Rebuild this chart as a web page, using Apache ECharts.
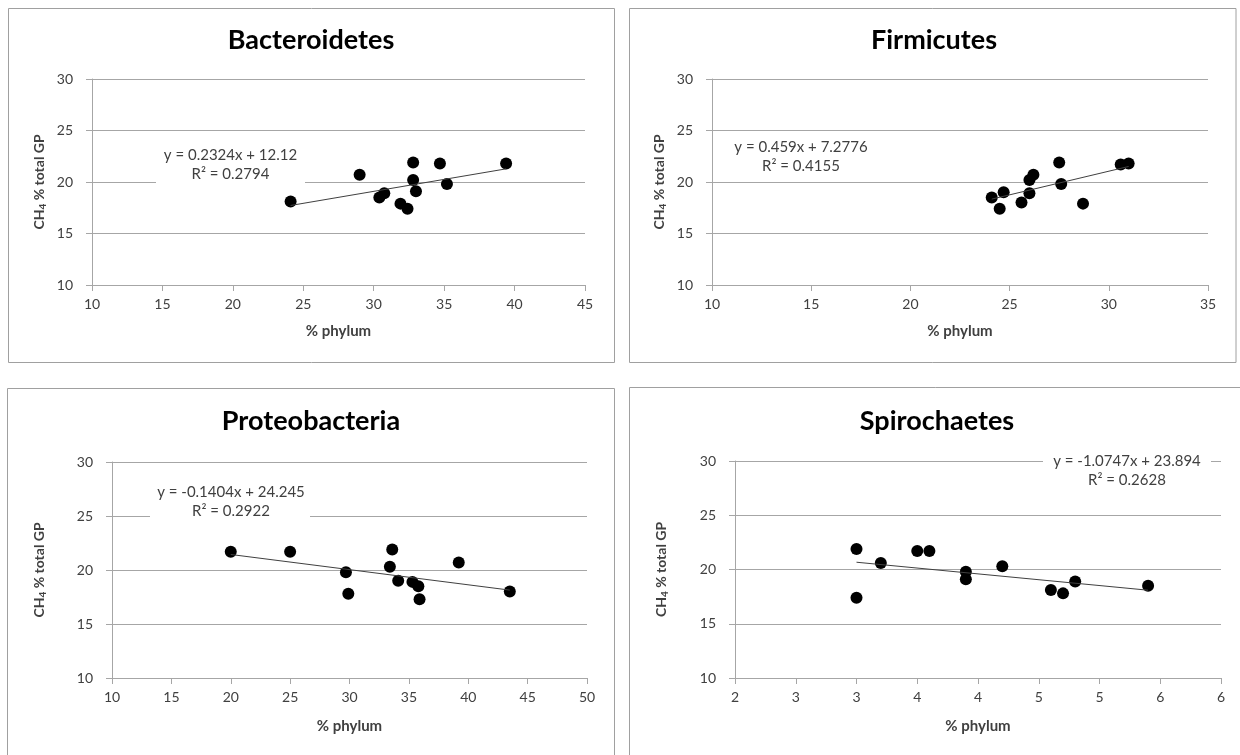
<!DOCTYPE html>
<html>
<head>
<meta charset="utf-8">
<script src="https://cdn.jsdelivr.net/npm/echarts@6/dist/echarts.min.js"></script>
<style>
  html, body { margin: 0; padding: 0; background: #fff; }
  #chart { width: 1240px; height: 755px; }
</style>
</head>
<body>
<div id="chart"></div>
<script>
// CH4 share of total gas production against relative abundance of four phyla
const panelTitles = ['Bacteroidetes', 'Firmicutes', 'Proteobacteria', 'Spirochaetes'];

const bacteroidetesX = [24.1, 29.0, 30.4, 30.75, 31.9, 32.4, 32.8, 32.8, 33.0, 34.7, 35.2, 39.4];
const bacteroidetesY = [18.1, 20.7, 18.5, 18.9, 17.9, 17.4, 21.9, 20.2, 19.1, 21.8, 19.8, 21.8];

const firmicutesX = [24.1, 24.7, 24.5, 25.6, 26.0, 26.0, 26.2, 27.5, 27.6, 28.7, 30.6, 31.0];
const firmicutesY = [18.5, 19.0, 17.4, 18.0, 20.2, 18.9, 20.7, 21.9, 19.8, 17.9, 21.7, 21.8];

const proteobacteriaX = [20.0, 25.0, 29.7, 29.9, 33.4, 33.6, 34.1, 35.3, 35.8, 35.9, 39.2, 43.5];
const proteobacteriaY = [21.7, 21.7, 19.8, 17.8, 20.3, 21.9, 19.0, 18.9, 18.5, 17.3, 20.7, 18.0];

const spirochaetesX = [3.0, 3.0, 3.2, 3.5, 3.6, 3.9, 3.9, 4.2, 4.6, 4.7, 4.8, 5.4];
const spirochaetesY = [21.9, 17.4, 20.6, 21.7, 21.7, 19.8, 19.1, 20.3, 18.1, 17.8, 18.9, 18.5];

// Linear fits (slope, intercept, R²) as printed on each panel
const fitSlopes = [0.2324, 0.459, -0.1404, -1.0747];
const fitIntercepts = [12.12, 7.2776, 24.245, 23.894];
const fitR2 = ['0.2794', '0.4155', '0.2922', '0.2628'];
const fitSlopeText = ['0.2324', '0.459', '-0.1404', '-1.0747'];
const fitInterceptText = ['12.12', '7.2776', '24.245', '23.894'];

// Axis ranges
const xMins = [10, 10, 10, 2];
const xMaxs = [45, 35, 50, 6];
const xSteps = [5, 5, 5, 0.5];
const yMin = 10, yMax = 30, yStep = 5;

const xs = [bacteroidetesX, firmicutesX, proteobacteriaX, spirochaetesX];
const ys = [bacteroidetesY, firmicutesY, proteobacteriaY, spirochaetesY];

const FONT = 'Lato, "Open Sans", sans-serif';
const GRID_COLOR = '#a6a6a6';
const TEXT = '#404040';

// layout of the four plot areas
const grids = [
  { left: 92, top: 79, width: 493, height: 206 },
  { left: 712, top: 79, width: 496, height: 206 },
  { left: 112, top: 462, width: 475, height: 216 },
  { left: 735, top: 461, width: 486, height: 217 }
];
const titlePos = [[311, 27], [934, 27], [311, 408], [937, 408]];
const yNameGap = [44, 44, 64, 65];
const xNameGap = [39, 39, 41, 41];
const eqPos = [[230.5, 155], [801, 147], [231, 492], [1127, 461]];
const eqBox = [[156, 143, 149, 44], [728, 135, 146, 44], [150, 480, 160, 44], [1043, 449, 168, 44]];

const chart = echarts.init(document.getElementById('chart'), null, { renderer: 'canvas' });

const option = {
  backgroundColor: '#fff',
  animation: false,
  title: panelTitles.map((t, i) => ({
    text: t,
    left: titlePos[i][0],
    top: titlePos[i][1],
    textAlign: 'center',
    padding: 0,
    textStyle: { fontFamily: FONT, fontWeight: 'bold', fontSize: 27, color: '#000' }
  })),
  grid: grids.map(g => Object.assign({ containLabel: false }, g)),
  xAxis: grids.map((g, i) => ({
    type: 'value',
    gridIndex: i,
    min: xMins[i],
    max: xMaxs[i],
    interval: xSteps[i],
    name: '% phylum',
    nameLocation: 'middle',
    nameGap: xNameGap[i],
    nameTextStyle: { fontFamily: FONT, fontWeight: 'bold', fontSize: 15, color: TEXT },
    axisLine: { show: true, lineStyle: { color: GRID_COLOR, width: 1 } },
    axisTick: { show: true, inside: false, length: 6, lineStyle: { color: GRID_COLOR } },
    splitLine: { show: false },
    axisLabel: {
      margin: 12,
      fontFamily: FONT, fontSize: 14, color: TEXT,
      formatter: v => String(Math.round(v))
    }
  })),
  yAxis: grids.map((g, i) => ({
    type: 'value',
    gridIndex: i,
    min: yMin,
    max: yMax,
    interval: yStep,
    name: '{b|CH}{s|4}{b| % total GP}',
    nameLocation: 'middle',
    nameRotate: 90,
    nameGap: yNameGap[i],
    nameTextStyle: {
      rich: {
        b: { fontFamily: FONT, fontWeight: 'bold', fontSize: 14, color: TEXT, lineHeight: 17, verticalAlign: 'middle' },
        s: { fontFamily: FONT, fontWeight: 'bold', fontSize: 10, color: TEXT, lineHeight: 10, verticalAlign: 'bottom' }
      }
    },
    axisLine: { show: true, lineStyle: { color: GRID_COLOR, width: 1 } },
    axisTick: { show: true, inside: false, length: 6, lineStyle: { color: GRID_COLOR } },
    splitLine: { show: true, lineStyle: { color: GRID_COLOR, width: 1 } },
    axisLabel: { margin: 19, fontFamily: FONT, fontSize: 14, color: TEXT }
  })),
  series: [],
  graphic: []
};

for (let i = 0; i < 4; i++) {
  const pts = xs[i].map((x, k) => [x, ys[i][k]]);
  const x0 = Math.min.apply(null, xs[i]);
  const x1 = Math.max.apply(null, xs[i]);
  const fit = (x) => fitSlopes[i] * x + fitIntercepts[i];
  option.series.push({
    type: 'scatter',
    xAxisIndex: i, yAxisIndex: i,
    symbol: 'circle',
    symbolSize: 12,
    itemStyle: { color: '#000', opacity: 1 },
    data: pts,
    z: 3
  });
  option.series.push({
    type: 'line',
    xAxisIndex: i, yAxisIndex: i,
    symbol: 'none',
    lineStyle: { color: '#404040', width: 1 },
    data: [[x0, fit(x0)], [x1, fit(x1)]],
    z: 4
  });
}

// panel frames
const frames = [
  [8.5, 8.5, 606, 354],
  [629.5, 8.5, 606.5, 354],
  [7.5, 388.5, 607, 400],
  [629.5, 387.5, 620, 400]
];
frames.forEach(f => {
  option.graphic.push({
    type: 'rect',
    shape: { x: f[0], y: f[1], width: f[2], height: f[3] },
    style: { fill: 'none', stroke: '#a0a0a0', lineWidth: 1 },
    z: 0, silent: true
  });
});

// regression equation labels on a white backing that masks the gridlines
for (let i = 0; i < 4; i++) {
  const b = eqBox[i];
  option.graphic.push({
    type: 'rect',
    z: 100,
    silent: true,
    shape: { x: b[0], y: b[1], width: b[2], height: b[3] },
    style: { fill: '#fff', stroke: 'none' }
  });
  option.graphic.push({
    type: 'text',
    z: 101,
    silent: true,
    x: eqPos[i][0], y: eqPos[i][1],
    style: {
      text: 'y = ' + fitSlopeText[i] + 'x + ' + fitInterceptText[i],
      align: 'center', verticalAlign: 'middle',
      font: '15px ' + FONT, fill: TEXT
    }
  });
  option.graphic.push({
    type: 'text',
    z: 101,
    silent: true,
    x: eqPos[i][0], y: eqPos[i][1] + 19.5,
    style: {
      text: 'R\u00b2 = ' + fitR2[i],
      align: 'center', verticalAlign: 'middle',
      font: '15px ' + FONT, fill: TEXT
    }
  });
}

chart.setOption(option);
</script>
</body>
</html>
